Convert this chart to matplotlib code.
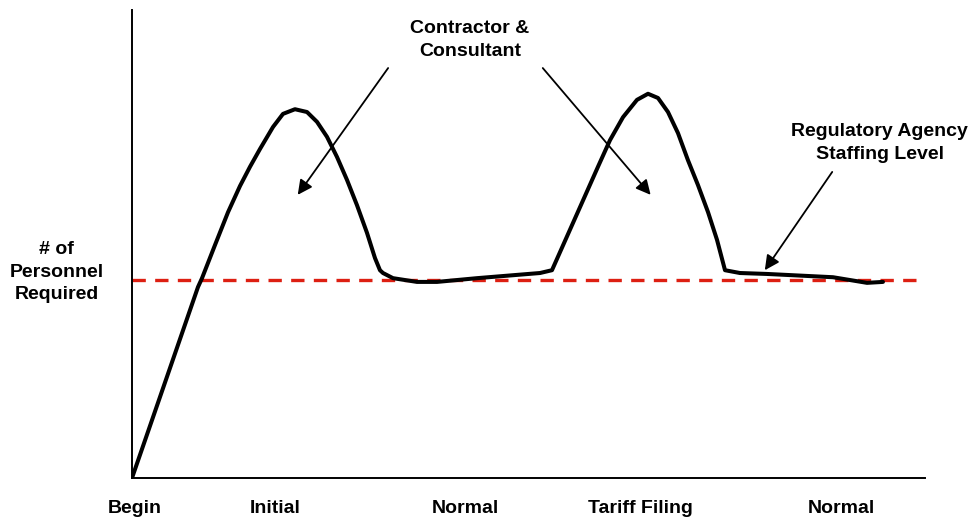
"""Staffing level over project phases, contractor peaks vs. agency level."""

import matplotlib

matplotlib.use("Agg")
import matplotlib.pyplot as plt

# time axis (0-100) and personnel required (0-100)
time = [0.0, 8.32, 8.83, 10.47, 12.11, 13.62, 14.88, 16.14, 17.78, 19.04,
        20.55, 22.07, 23.33, 24.59, 25.85, 27.11, 28.37, 29.63, 30.64, 31.27,
        31.65, 32.91, 35.94, 38.46, 43.51, 51.45, 52.96, 55.61, 58.76, 60.28,
        61.92, 63.68, 65.07, 66.33, 67.59, 68.85, 70.11, 71.37, 72.64, 73.77,
        74.78, 76.67, 80.08, 88.40, 92.69, 94.70]
personnel = [0.0, 40.8, 42.7, 49.8, 56.8, 62.4, 66.5, 70.3, 75.0, 77.8,
             78.8, 78.2, 76.1, 72.9, 68.6, 63.7, 58.3, 52.4, 47.0, 44.4,
             43.8, 42.7, 41.9, 41.9, 42.7, 43.8, 44.4, 54.5, 66.5, 72.2,
             77.1, 80.8, 82.1, 81.2, 78.2, 73.7, 67.9, 62.6, 56.8, 50.9,
             44.4, 43.8, 43.6, 42.9, 41.7, 41.9]

staffing_level = 42.3
staffing_span = [0.0, 99.1]

phase_labels = ["Begin", "Initial", "Normal", "Tariff Filing", "Normal"]
phase_positions = [0.3, 18.0, 42.1, 64.1, 89.5]

FONT = ["Liberation Sans", "DejaVu Sans"]
plt.rcParams["font.family"] = FONT
plt.rcParams["font.weight"] = "bold"
SIZE = 14

fig = plt.figure(figsize=(9.7, 5.21), dpi=100)
ax = fig.add_axes([132 / 970, 43 / 521, 793 / 970, 468 / 521])
ax.set_xlim(0, 100)
ax.set_ylim(0, 100)

ax.plot(staffing_span, [staffing_level, staffing_level], color="#dd1f12",
        lw=2.4, dashes=(4.0, 2.8), zorder=2)
ax.plot(time, personnel, color="black", lw=2.9, solid_joinstyle="round",
        solid_capstyle="round", zorder=3)

for side in ("top", "right"):
    ax.spines[side].set_visible(False)
for side in ("left", "bottom"):
    ax.spines[side].set_linewidth(1.4)

ax.set_yticks([])
ax.set_xticks(phase_positions)
ax.set_xticklabels(phase_labels, fontsize=SIZE, fontweight="bold")
ax.tick_params(axis="x", length=0, pad=16)

ax.text(-9.5, 44.0, "# of\nPersonnel\nRequired", ha="center", va="center",
        fontsize=SIZE, fontweight="bold", linespacing=1.4, clip_on=False)

arrow = dict(arrowstyle="-|>", color="black", lw=1.3, mutation_scale=22,
             shrinkA=0, shrinkB=0)
ax.text(42.6, 93.6, "Contractor &\nConsultant", ha="center", va="center",
        fontsize=SIZE, fontweight="bold", linespacing=1.4)
ax.annotate("", xy=(20.9, 60.5), xytext=(32.3, 87.6), arrowprops=arrow)
ax.annotate("", xy=(65.4, 60.5), xytext=(51.8, 87.6), arrowprops=arrow)

ax.text(94.3, 71.6, "Regulatory Agency\nStaffing Level", ha="center",
        va="center", fontsize=SIZE, fontweight="bold", linespacing=1.4,
        clip_on=False)
ax.annotate("", xy=(79.8, 44.4), xytext=(88.3, 65.4), arrowprops=arrow)

fig.savefig("out.png", dpi=100)
